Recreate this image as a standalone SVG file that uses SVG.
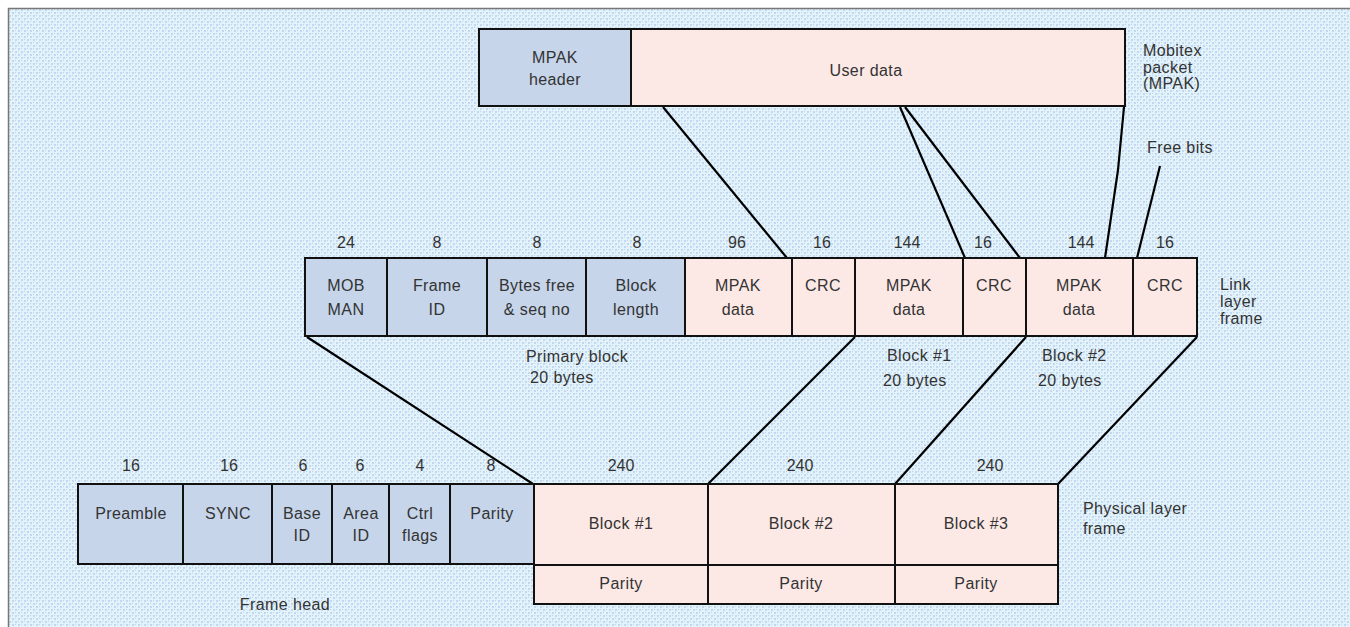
<svg xmlns="http://www.w3.org/2000/svg" width="1350" height="627" viewBox="0 0 1350 627">
<defs>
<pattern id="bg" x="0" y="0" width="6" height="6" patternUnits="userSpaceOnUse">
<rect width="6" height="6" fill="#e2f4fb"/>
<rect x="0" y="0" width="2" height="2" fill="#c4d6f2"/>
<rect x="3" y="3" width="2" height="2" fill="#c4d6f2"/>
<rect x="3" y="0" width="1" height="1" fill="#cfcfd8"/>
<rect x="0" y="3" width="1" height="1" fill="#cfcfd8"/>
</pattern>
<style>
.blue{fill:#c6d5ea;stroke:#111;stroke-width:2}
.pink{fill:#fce9e6;stroke:#111;stroke-width:2}
.div{stroke:#111;stroke-width:2;fill:none}
.t{font-family:"Liberation Sans",Arial,sans-serif;font-size:16px;fill:#333;text-anchor:middle;letter-spacing:0.4px}
.l{font-family:"Liberation Sans",Arial,sans-serif;font-size:16px;fill:#333;letter-spacing:0.4px}
.n{font-family:"Liberation Sans",Arial,sans-serif;font-size:16px;fill:#333;text-anchor:middle}
.c{stroke:#000;stroke-width:2.2;fill:none}
</style>
</defs>
<rect width="1350" height="627" fill="#fff"/>
<rect x="8" y="8" width="1342" height="619" fill="url(#bg)"/>
<path d="M8.5 627 V8.5 H1350" stroke="#777" stroke-width="1.5" fill="none"/>

<g id="connectors">
<line class="c" x1="663" y1="107" x2="787" y2="258"/>
<line class="c" x1="900" y1="107" x2="965" y2="258"/>
<line class="c" x1="905" y1="107" x2="1020" y2="258"/>
<polyline class="c" points="1124,107 1118,170 1105,258"/>
<line class="c" x1="1160" y1="166" x2="1137" y2="258"/>
<line class="c" x1="307" y1="337" x2="533" y2="484"/>
<line class="c" x1="855" y1="337" x2="708" y2="484"/>
<line class="c" x1="1026" y1="337" x2="895" y2="484"/>
<line class="c" x1="1197" y1="337" x2="1058" y2="484"/>
</g>

<g id="mpak">
<rect class="blue" x="479" y="29" width="152" height="77"/>
<text class="t" x="555" y="63">MPAK</text>
<text class="t" x="555" y="85">header</text>
<rect class="pink" x="631" y="29" width="494" height="77"/>
<text class="t" x="866" y="76">User data</text>
<text class="l" x="1143" y="56">Mobitex</text>
<text class="l" x="1143" y="73">packet</text>
<text class="l" x="1143" y="89">(MPAK)</text>
<text class="l" x="1147" y="153">Free bits</text>
</g>

<g id="link-frame">
<rect class="blue" x="305" y="258" width="380" height="78"/>
<rect class="pink" x="685" y="258" width="512" height="78"/>
<line class="div" x1="387" y1="258" x2="387" y2="336"/>
<line class="div" x1="487" y1="258" x2="487" y2="336"/>
<line class="div" x1="586" y1="258" x2="586" y2="336"/>
<line class="div" x1="792" y1="258" x2="792" y2="336"/>
<line class="div" x1="855" y1="258" x2="855" y2="336"/>
<line class="div" x1="963" y1="258" x2="963" y2="336"/>
<line class="div" x1="1026" y1="258" x2="1026" y2="336"/>
<line class="div" x1="1133" y1="258" x2="1133" y2="336"/>
<text class="n" x="346" y="248">24</text>
<text class="n" x="437" y="248">8</text>
<text class="n" x="537" y="248">8</text>
<text class="n" x="637" y="248">8</text>
<text class="n" x="737" y="248">96</text>
<text class="n" x="822" y="248">16</text>
<text class="n" x="907" y="248">144</text>
<text class="n" x="983" y="248">16</text>
<text class="n" x="1081" y="248">144</text>
<text class="n" x="1165" y="248">16</text>
<text class="t" x="346" y="291">MOB</text>
<text class="t" x="346" y="315">MAN</text>
<text class="t" x="437" y="291">Frame</text>
<text class="t" x="437" y="315">ID</text>
<text class="t" x="537" y="291" letter-spacing="0">Bytes free</text>
<text class="t" x="537" y="315">&amp; seq no</text>
<text class="t" x="636" y="291">Block</text>
<text class="t" x="636" y="315">length</text>
<text class="t" x="738" y="291">MPAK</text>
<text class="t" x="738" y="315">data</text>
<text class="t" x="823" y="291">CRC</text>
<text class="t" x="909" y="291">MPAK</text>
<text class="t" x="909" y="315">data</text>
<text class="t" x="994" y="291">CRC</text>
<text class="t" x="1079" y="291">MPAK</text>
<text class="t" x="1079" y="315">data</text>
<text class="t" x="1165" y="291">CRC</text>
<text class="l" x="1220" y="290">Link</text>
<text class="l" x="1220" y="307">layer</text>
<text class="l" x="1220" y="324">frame</text>
<text class="l" x="526" y="362">Primary block</text>
<text class="l" x="530" y="383">20 bytes</text>
<text class="l" x="887" y="361">Block #1</text>
<text class="l" x="883" y="386">20 bytes</text>
<text class="l" x="1042" y="361">Block #2</text>
<text class="l" x="1038" y="386">20 bytes</text>
</g>

<g id="physical-frame">
<rect class="blue" x="78" y="484" width="456" height="80"/>
<line class="div" x1="183" y1="484" x2="183" y2="564"/>
<line class="div" x1="272" y1="484" x2="272" y2="564"/>
<line class="div" x1="332" y1="484" x2="332" y2="564"/>
<line class="div" x1="389" y1="484" x2="389" y2="564"/>
<line class="div" x1="450" y1="484" x2="450" y2="564"/>
<rect class="pink" x="534" y="484" width="524" height="120"/>
<line class="div" x1="534" y1="565" x2="1058" y2="565"/>
<line class="div" x1="708" y1="484" x2="708" y2="604"/>
<line class="div" x1="895" y1="484" x2="895" y2="604"/>
<text class="n" x="131" y="471">16</text>
<text class="n" x="229" y="471">16</text>
<text class="n" x="303" y="471">6</text>
<text class="n" x="360" y="471">6</text>
<text class="n" x="420" y="471">4</text>
<text class="n" x="491" y="471">8</text>
<text class="n" x="621" y="471">240</text>
<text class="n" x="800" y="471">240</text>
<text class="n" x="990" y="471">240</text>
<text class="t" x="131" y="519" letter-spacing="1">Preamble</text>
<text class="t" x="228" y="519">SYNC</text>
<text class="t" x="302" y="519">Base</text>
<text class="t" x="302" y="541">ID</text>
<text class="t" x="361" y="519">Area</text>
<text class="t" x="361" y="541">ID</text>
<text class="t" x="420" y="519">Ctrl</text>
<text class="t" x="420" y="541">flags</text>
<text class="t" x="492" y="519">Parity</text>
<text class="t" x="621" y="529">Block #1</text>
<text class="t" x="801" y="529">Block #2</text>
<text class="t" x="976" y="529">Block #3</text>
<text class="t" x="621" y="589">Parity</text>
<text class="t" x="801" y="589">Parity</text>
<text class="t" x="976" y="589">Parity</text>
<text class="t" x="285" y="610">Frame head</text>
<text class="l" x="1083" y="514">Physical layer</text>
<text class="l" x="1083" y="534">frame</text>
</g>
</svg>
